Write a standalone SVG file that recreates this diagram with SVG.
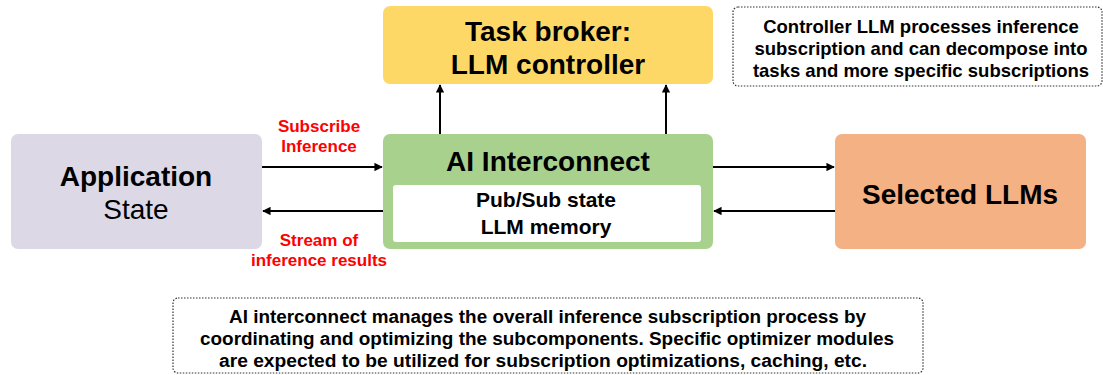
<svg xmlns="http://www.w3.org/2000/svg" width="1103" height="375" viewBox="0 0 1103 375">
<defs>
<style>
text{font-family:"Liberation Sans",Arial,sans-serif;text-anchor:middle;fill:#000}
.b{font-weight:bold}
.big{font-size:28px}
.red{fill:#ff0000;font-weight:bold;font-size:17px}
.note{fill:#fff;stroke:#333;stroke-width:1.2;stroke-dasharray:1.5 1.5}
.c{stroke:#000;stroke-width:2;fill:none;marker-end:url(#ah)}
</style>
<marker id="ah" viewBox="0 0 10 10" refX="9" refY="5" markerWidth="4.2" markerHeight="4.2" orient="auto" markerUnits="strokeWidth">
<path d="M0,0 L10,5 L0,10 z" fill="#000"/>
</marker>
</defs>
<rect width="1103" height="375" fill="#fff"/>
<g id="connectors">
<line class="c" x1="262" y1="167" x2="382" y2="167"/>
<line class="c" x1="383" y1="211" x2="263" y2="211"/>
<line class="c" x1="713" y1="167" x2="834" y2="167"/>
<line class="c" x1="835" y1="211" x2="714" y2="211"/>
<line class="c" x1="440" y1="134" x2="440" y2="85"/>
<line class="c" x1="666" y1="134" x2="666" y2="85"/>
<text class="red" x="319" y="132">Subscribe</text>
<text class="red" x="319" y="152">Inference</text>
<text class="red" x="319" y="246">Stream of</text>
<text class="red" x="319" y="266">inference results</text>
</g>
<g id="app">
<rect x="11" y="134" width="251" height="115" rx="7" fill="#dcd8e6"/>
<text class="b big" x="136" y="186">Application</text>
<text class="big" x="136" y="219">State</text>
</g>
<g id="broker">
<rect x="383" y="6" width="330" height="78" rx="7" fill="#fdd866"/>
<text class="b big" x="548" y="41">Task broker:</text>
<text class="b big" x="548" y="74">LLM controller</text>
</g>
<g id="interconnect">
<rect x="383" y="134" width="330" height="115" rx="7" fill="#a9d18e"/>
<text class="b big" x="548" y="171">AI Interconnect</text>
<rect x="393" y="185" width="308" height="57" rx="3" fill="#fff"/>
<text class="b" font-size="21" x="546" y="207">Pub/Sub state</text>
<text class="b" font-size="21" x="546" y="234">LLM memory</text>
</g>
<g id="llms">
<rect x="835" y="134" width="251" height="115" rx="7" fill="#f4b183"/>
<text class="b big" x="960" y="204">Selected LLMs</text>
</g>
<g id="note1">
<rect class="note" x="733" y="7" width="369" height="79" rx="5"/>
<text class="b" font-size="18.5" x="921" y="33">Controller LLM processes inference</text>
<text class="b" font-size="18.5" x="921" y="55">subscription and can decompose into</text>
<text class="b" font-size="18.5" x="921" y="77">tasks and more specific subscriptions</text>
</g>
<g id="note2">
<rect class="note" x="173" y="298" width="750" height="75" rx="5"/>
<text class="b" font-size="18" x="547.5" y="323" textLength="637" lengthAdjust="spacingAndGlyphs">AI interconnect manages the overall inference subscription process by</text>
<text class="b" font-size="18" x="547" y="345" textLength="694" lengthAdjust="spacingAndGlyphs">coordinating and optimizing the subcomponents. Specific optimizer modules</text>
<text class="b" font-size="18" x="543" y="367" textLength="648" lengthAdjust="spacingAndGlyphs">are expected to be utilized for subscription optimizations, caching, etc.</text>
</g>
</svg>
